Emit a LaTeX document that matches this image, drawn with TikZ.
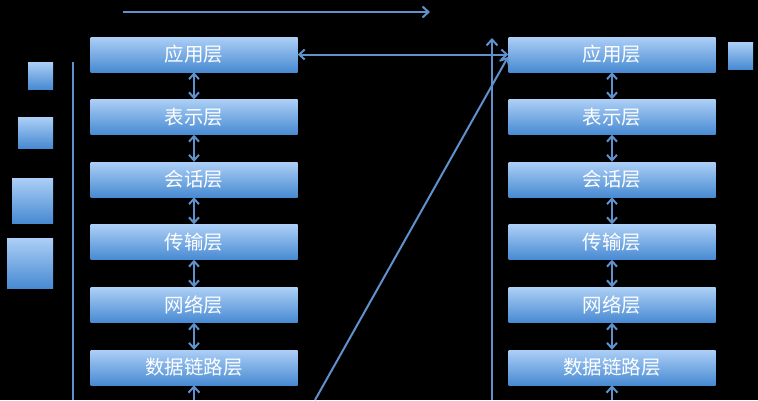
\documentclass[tikz,border=0pt]{standalone}
\usepackage{fontspec}
\newfontfamily\cjk{Noto Sans CJK SC}
\usetikzlibrary{arrows.meta}
\definecolor{boxtop}{RGB}{172,207,246}
\definecolor{boxbot}{RGB}{72,138,210}
\definecolor{linkc}{RGB}{95,145,205}
\begin{document}
\begin{tikzpicture}[x=1pt,y=-1pt,
  layer/.style={minimum width=207pt,minimum height=35pt,inner sep=0pt,
    top color=boxtop,bottom color=boxbot,text=white,
    font=\cjk\fontsize{19.5}{21}\selectfont},
  sq/.style={inner sep=0pt,top color=boxtop,bottom color=boxbot},
  link/.style={draw=linkc,line width=2pt},
  tip/.style={-{Straight Barb[length=6pt,width=11pt]}},
  dtip/.style={{Straight Barb[length=5.5pt,width=10pt]}-{Straight Barb[length=5.5pt,width=10pt]}}]
\fill[black] (0,0) rectangle (758,400);
\useasboundingbox (0,0) rectangle (758,400);
% left stack
\node[layer] (L1) at (194,54.5) {应用层};
\node[layer] (L2) at (194,117) {表示层};
\node[layer] (L3) at (194,179.5) {会话层};
\node[layer] (L4) at (194,242) {传输层};
\node[layer] (L5) at (194,305) {网络层};
\node[layer] (L6) at (194,367.5) {数据链路层};
% right stack
\node[layer] (R1) at (612,54.5) {应用层};
\node[layer] (R2) at (612,117) {表示层};
\node[layer] (R3) at (612,179.5) {会话层};
\node[layer] (R4) at (612,242) {传输层};
\node[layer] (R5) at (612,305) {网络层};
\node[layer] (R6) at (612,367.5) {数据链路层};
% small squares
\node[sq,minimum width=25pt,minimum height=27pt] (s1) at (40.5,75.5) {};
\node[sq,minimum width=35pt,minimum height=31pt] (s2) at (35.5,132.5) {};
\node[sq,minimum width=41pt,minimum height=45pt] (s3) at (32.5,200.5) {};
\node[sq,minimum width=46pt,minimum height=50pt] (s4) at (30,263) {};
\node[sq,minimum width=25pt,minimum height=27pt] (sr) at (740.5,55.5) {};
% free-end coordinates
\coordinate (topA) at (123,12);
\coordinate (topB) at (430,12);
\coordinate (vlA) at (73,62);
\coordinate (vlB) at (73,400);
\coordinate (vrA) at (492,400);
\coordinate (vrB) at (492,38);
\coordinate (dgA) at (315,400);
\coordinate (dgB) at (508,57);
\coordinate (bL) at (194,400);
\coordinate (bR) at (612,400);
% connectors
\draw[link,tip] (topA) -- (topB);
\draw[link] (vlA) -- (vlB);
\draw[link,tip] (vrA) -- (vrB);
\draw[link,tip] (dgA) -- (dgB);
\draw[link,dtip] (L1.east) -- (R1.west);
\foreach \a/\b in {1/2,2/3,3/4,4/5,5/6}{
  \draw[link,dtip] (L\a.south) -- (L\b.north);
  \draw[link,dtip] (R\a.south) -- (R\b.north);
}
\draw[link,tip] (bL) -- (L6.south);
\draw[link,tip] (bR) -- (R6.south);
\end{tikzpicture}
\end{document}
